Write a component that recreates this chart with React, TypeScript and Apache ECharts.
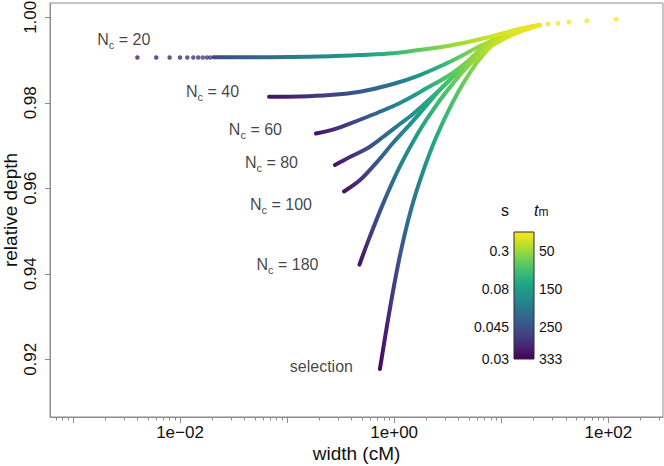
import React, { useEffect, useRef } from "react";
import * as echarts from "echarts";

// ---------- data (width in cM, relative depth, t_m) ----------
const nc20DotWidth = [0.004, 0.006, 0.008, 0.01, 0.0117, 0.0133, 0.0148, 0.0163, 0.0178, 0.0191];
const nc20DotDepth = [0.9906, 0.9906, 0.9906, 0.9906, 0.9906, 0.9906, 0.9906, 0.9906, 0.9906, 0.9906];
const nc20DotTm = [306, 302, 298, 294, 290, 286, 282, 278, 274, 270];

const nc20Width = [0.0205, 0.0451, 0.1065, 0.251, 0.48, 0.975, 2.02, 3.54, 5.93, 8.73, 13.4, 23.0];
const nc20Depth = [0.99064, 0.99064, 0.99071, 0.9909, 0.99118, 0.99158, 0.99258, 0.99352, 0.99469, 0.99574, 0.99703, 0.9982];
const nc20Tm = [260, 233, 200, 173, 150, 115, 75, 50, 35, 22, 14, 7];

const nc40Width = [0.0678, 0.132, 0.251, 0.48, 0.975, 1.74, 2.86, 4.11, 6.33, 10.8, 16.6, 23.0];
const nc40Depth = [0.9814, 0.98147, 0.98182, 0.98259, 0.9844, 0.9865, 0.98884, 0.99078, 0.99328, 0.99586, 0.99726, 0.9982];
const nc40Tm = [316, 293, 270, 243, 205, 160, 115, 80, 50, 25, 13, 7];

const nc60Width = [0.186, 0.268, 0.386, 0.557, 0.786, 1.13, 1.5, 2.02, 3.11, 4.79, 7.84, 12.0, 23.0];
const nc60Depth = [0.97281, 0.97374, 0.97515, 0.97668, 0.9782, 0.97995, 0.98159, 0.98346, 0.9861, 0.98961, 0.99429, 0.99656, 0.9982];
const nc60Tm = [316, 293, 270, 243, 213, 180, 155, 127, 93, 63, 37, 20, 7];

const nc80Width = [0.28, 0.386, 0.557, 0.786, 1.13, 1.5, 2.02, 3.11, 4.79, 7.35, 12.0, 23.0];
const nc80Depth = [0.96544, 0.96731, 0.9693, 0.972, 0.97504, 0.97738, 0.98025, 0.98463, 0.98931, 0.99352, 0.99656, 0.9982];
const nc80Tm = [316, 290, 258, 226, 192, 165, 135, 100, 65, 38, 20, 7];

const nc100Width = [0.34, 0.48, 0.69, 0.974, 1.41, 2.02, 2.85, 4.11, 6.33, 9.72, 15.0, 23.0];
const nc100Depth = [0.95925, 0.96193, 0.96614, 0.97059, 0.97503, 0.97948, 0.98376, 0.98767, 0.99235, 0.99516, 0.99703, 0.9982];
const nc100Tm = [316, 283, 243, 205, 170, 135, 105, 78, 48, 27, 15, 7];

const nc180Width = [0.474, 0.582, 0.786, 1.13, 1.63, 2.3, 3.32, 5.11, 7.84, 12.0, 16.6, 23.0];
const nc180Depth = [0.94216, 0.94817, 0.95636, 0.96511, 0.97248, 0.97828, 0.98367, 0.98905, 0.99303, 0.9956, 0.997, 0.9982];
const nc180Tm = [316, 280, 243, 190, 150, 117, 87, 55, 33, 18, 12, 7];

const selWidth = [0.736, 0.857, 0.996, 1.157, 1.374, 1.667, 2.3, 3.32, 4.68, 6.75, 9.72, 15.0, 23.0];
const selDepth = [0.91774, 0.92786, 0.93719, 0.94538, 0.95325, 0.96041, 0.97012, 0.97887, 0.98561, 0.99118, 0.99495, 0.99703, 0.9982];
const selTm = [323, 300, 272, 240, 212, 188, 140, 102, 73, 47, 27, 13, 7];

const tailWidth = [27.3, 33.8, 42.9, 63.1, 118];
const tailDepth = [0.99843, 0.9986, 0.9989, 0.9992, 0.99953];
const tailTm = [6, 5, 4, 3, 2];

const curveNames = ["N_c = 20", "N_c = 40", "N_c = 60", "N_c = 80", "N_c = 100", "N_c = 180", "selection"];

const yTicks = [0.92, 0.94, 0.96, 0.98, 1.0];
const xMajorExp = [-3, -2, -1, 0, 1, 2];
const xLabelExp = [-2, 0, 2];

const legendTm = [50, 150, 250, 333];
const legendS = ["0.3", "0.08", "0.045", "0.03"];
const TM_MAX = 333;

// ---------- styling ----------
const FONT = '"Liberation Sans", Arial, Helvetica, sans-serif';
const TEXT = "#111111";
const AXIS = "#8c8c8c";
const X_MIN = -3.214;
const X_MAX = 2.51;
const Y_MIN = 0.9065;
const Y_MAX = 1.00335;

const VIRIDIS = ["#440154", "#482475", "#414487", "#355f8d", "#2a788e", "#21918c", "#22a884", "#44bf70", "#7ad151", "#bddf26", "#fde725"];

function hexToRgb(h: string) {
  return [parseInt(h.slice(1, 3), 16), parseInt(h.slice(3, 5), 16), parseInt(h.slice(5, 7), 16)];
}
function viridis(t: number) {
  const c = Math.max(0, Math.min(1, t)) * 10;
  const i = Math.min(9, Math.floor(c));
  const f = c - i;
  const a = hexToRgb(VIRIDIS[i]);
  const b = hexToRgb(VIRIDIS[i + 1]);
  const r = a.map((v, k) => Math.round(v + (b[k] - v) * f));
  return `rgb(${r[0]},${r[1]},${r[2]})`;
}
const tmColor = (tm: number) => viridis(1 - tm / TM_MAX);

function lineGradient(w: number[], tm: number[]) {
  const lx = w.map((v) => Math.log10(v));
  const a = lx[0];
  const b = lx[lx.length - 1];
  return new echarts.graphic.LinearGradient(
    0, 0, 1, 0,
    lx.map((v, i) => ({ offset: (v - a) / (b - a), color: tmColor(tm[i]) }))
  );
}

function richName(name: string) {
  if (name.startsWith("N_c")) return "{n|N}{c|c}{n|" + name.slice(3) + "}";
  return "{n|" + name + "}";
}

const expLabel = (v: number) => {
  const e = Math.round(v);
  return "1e" + (e < 0 ? "\u2212" : "+") + String(Math.abs(e)).padStart(2, "0");
};

export default function App() {
  const ref = useRef<HTMLDivElement>(null);
  useEffect(() => {
    if (!ref.current) return;
    const chart = echarts.init(ref.current, undefined, { renderer: "svg" });

    const curves = [
      { w: nc20Width, d: nc20Depth, tm: nc20Tm },
      { w: nc40Width, d: nc40Depth, tm: nc40Tm },
      { w: nc60Width, d: nc60Depth, tm: nc60Tm },
      { w: nc80Width, d: nc80Depth, tm: nc80Tm },
      { w: nc100Width, d: nc100Depth, tm: nc100Tm },
      { w: nc180Width, d: nc180Depth, tm: nc180Tm },
      { w: selWidth, d: selDepth, tm: selTm },
    ];

    const minorTicks: number[] = [];
    for (let e = -4; e <= 2; e++) {
      for (let k = 2; k <= 9; k++) {
        const v = e + Math.log10(k);
        if (v >= X_MIN && v <= X_MAX) minorTicks.push(v);
      }
    }

    // label placement relative to first point of each curve: [distance, dx, dy]
    const labelPlace: [number, number, number][] = [
      [5, 19, -18],
      [29, 0, -5],
      [33, 0, -4.5],
      [36, 0, -3],
      [31, 0, 12.5],
      [40, 0, 0],
      [26, 0, -2],
    ];
    const anchors = curves.map((c, i) =>
      i === 0 ? [Math.log10(nc20DotWidth[0]), nc20DotDepth[0]] : [Math.log10(c.w[0]), c.d[0]]
    );

    const rich = {
      n: { fontSize: 16, lineHeight: 22, color: TEXT, fontFamily: FONT },
      c: { fontSize: 11, lineHeight: 12, verticalAlign: "bottom", color: TEXT, fontFamily: FONT },
    };

    const lineSeries = curves.map((c) => ({
      type: "line",
      xAxisIndex: 0,
      yAxisIndex: 0,
      data: c.w.map((w, i) => [Math.log10(w), c.d[i], c.tm[i]]),
      showSymbol: false,
      smooth: 0.3,
      silent: true,
      lineStyle: { width: 4, cap: "round", join: "round", color: lineGradient(c.w, c.tm) },
    }));

    const colorbarGradient = new echarts.graphic.LinearGradient(
      0, 0, 0, 1,
      VIRIDIS.slice().reverse().map((c, i) => ({ offset: i / 10, color: c }))
    );

    const option: any = {
      animation: false,
      backgroundColor: "#ffffff",
      textStyle: { fontFamily: FONT },
      grid: [
        { left: 50, top: 3, right: 1, bottom: 49, show: true, borderColor: AXIS, borderWidth: 1, backgroundColor: "transparent", outerBoundsMode: "none", containLabel: false },
        { left: 514, top: 232, width: 20, height: 127, show: true, borderColor: "#2a2a2a", borderWidth: 1, backgroundColor: colorbarGradient, outerBoundsMode: "none", containLabel: false },
      ],
      xAxis: [
        {
          gridIndex: 0, type: "value", min: X_MIN, max: X_MAX, position: "bottom",
          axisLine: { show: true, onZero: false, lineStyle: { color: AXIS, width: 1 } },
          axisTick: { show: true, length: 6, customValues: xMajorExp, lineStyle: { color: AXIS } },
          axisLabel: { customValues: xLabelExp, formatter: expLabel, color: TEXT, fontSize: 17, margin: 7, fontFamily: FONT },
          splitLine: { show: false },
          name: "width (cM)", nameLocation: "middle", nameGap: 27, nameMoveOverlap: false,
          nameTextStyle: { fontSize: 19, color: TEXT, fontFamily: FONT },
        },
        {
          gridIndex: 0, type: "value", min: X_MIN, max: X_MAX, position: "bottom",
          axisLine: { show: false, onZero: false },
          axisTick: { show: true, length: 3.5, customValues: minorTicks, lineStyle: { color: AXIS } },
          axisLabel: { show: false },
          splitLine: { show: false },
        },
        { gridIndex: 1, type: "value", show: false, min: 0, max: 1 },
      ],
      yAxis: [
        {
          gridIndex: 0, type: "value", min: Y_MIN, max: Y_MAX,
          axisLine: { show: true, onZero: false, lineStyle: { color: AXIS, width: 1 } },
          axisTick: { show: true, length: 5, customValues: yTicks, lineStyle: { color: AXIS } },
          axisLabel: { customValues: yTicks, rotate: 90, formatter: (v: number) => v.toFixed(2), color: TEXT, fontSize: 17, margin: 11, fontFamily: FONT },
          splitLine: { show: false },
          name: "relative depth", nameLocation: "middle", nameGap: 30, nameMoveOverlap: false,
          nameTextStyle: { fontSize: 19, color: TEXT, fontFamily: FONT },
        },
        {
          gridIndex: 1, type: "value", position: "left", min: 0, max: TM_MAX, inverse: true,
          axisLine: { show: false, onZero: false }, axisTick: { show: false }, splitLine: { show: false },
          axisLabel: {
            customValues: legendTm,
            formatter: (v: number) => legendS[legendTm.findIndex((t) => Math.abs(t - v) < 1e-6)] ?? "",
            fontSize: 14, margin: 5, color: TEXT, fontFamily: FONT,
          },
        },
        {
          gridIndex: 1, type: "value", position: "right", min: 0, max: TM_MAX, inverse: true,
          axisLine: { show: false, onZero: false }, axisTick: { show: false }, splitLine: { show: false },
          axisLabel: { customValues: legendTm, formatter: (v: number) => String(Math.round(v)), fontSize: 14, margin: 5, color: TEXT, fontFamily: FONT },
        },
      ],
      series: [
        ...lineSeries.slice().reverse(),
        {
          type: "scatter", xAxisIndex: 0, yAxisIndex: 0, silent: true, symbolSize: 4.5,
          data: nc20DotWidth.map((w, i) => [Math.log10(w), nc20DotDepth[i], nc20DotTm[i]]),
          itemStyle: { color: (p: any) => tmColor(p.data[2]) },
        },
        {
          type: "scatter", xAxisIndex: 0, yAxisIndex: 0, silent: true, symbolSize: 5,
          data: tailWidth.map((w, i) => [Math.log10(w), tailDepth[i], tailTm[i]]),
          itemStyle: { color: (p: any) => tmColor(p.data[2]) },
        },
        {
          type: "scatter", xAxisIndex: 0, yAxisIndex: 0, silent: true, symbolSize: 2,
          itemStyle: { color: "rgba(0,0,0,0)" },
          data: anchors.map((a, i) => ({
            value: a,
            label: {
              show: true, position: "left", distance: labelPlace[i][0], offset: [labelPlace[i][1], labelPlace[i][2]],
              formatter: richName(curveNames[i]), rich, color: TEXT,
            },
          })),
        },
      ],
      graphic: [
        { type: "text", x: 505, y: 210, style: { text: "s", fill: TEXT, font: `16px ${FONT}`, align: "center", verticalAlign: "middle" } },
        {
          type: "text", x: 534, y: 210,
          style: {
            text: "{t|t}{m|m}", align: "left", verticalAlign: "middle",
            rich: {
              t: { fontSize: 16, fontStyle: "italic", lineHeight: 16, fill: TEXT, fontFamily: FONT },
              m: { fontSize: 12, lineHeight: 12, verticalAlign: "bottom", fill: TEXT, fontFamily: FONT },
            },
          },
        },
      ],
    };

    chart.setOption(option);
    return () => chart.dispose();
  }, []);

  return <div ref={ref} style={{ position: "fixed", left: 0, top: 0, width: 664, height: 466 }} />;
}
